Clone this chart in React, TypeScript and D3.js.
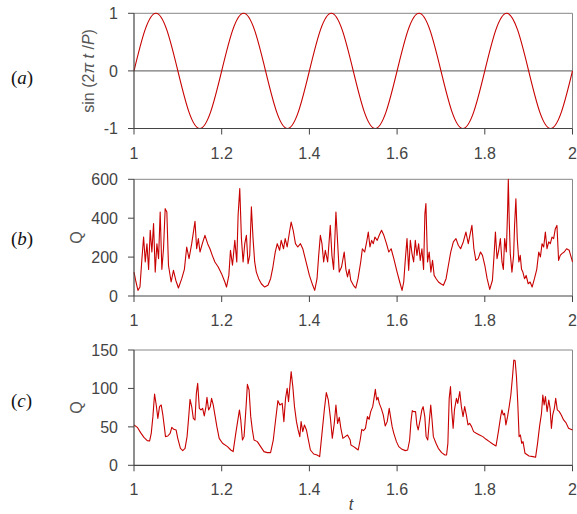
import React from 'react';
import * as d3 from 'd3';

// (a) sine samples, one every 0.025 in t starting at t = 1
const sineValues = [
  0, 0.707, 1, 0.707, 0, -0.707, -1, -0.707,
  0, 0.707, 1, 0.707, 0, -0.707, -1, -0.707,
  0, 0.707, 1, 0.707, 0, -0.707, -1, -0.707,
  0, 0.707, 1, 0.707, 0, -0.707, -1, -0.707,
  0, 0.707, 1, 0.707, 0, -0.707, -1, -0.707,
  0,
];
const sineStep = 0.025;

// (b) flow Q
const bTime = [
  1.0, 1.0045, 1.009, 1.0136, 1.0181, 1.0219, 1.0257, 1.0295, 1.0333, 1.037,
  1.0408, 1.0446, 1.0484, 1.0522, 1.056, 1.0597, 1.0635, 1.0673, 1.0711, 1.0749,
  1.0786, 1.0847, 1.09, 1.0953, 1.1013, 1.1089, 1.1149, 1.1202, 1.1255, 1.1316,
  1.1391, 1.1429, 1.1467, 1.1505, 1.1558, 1.1618, 1.1679, 1.1732, 1.1785, 1.1845,
  1.1921, 1.1996, 1.2072, 1.211, 1.2163, 1.22, 1.2246, 1.2299, 1.2344, 1.2374,
  1.2412, 1.245, 1.2488, 1.2526, 1.2563, 1.2601, 1.2639, 1.2677, 1.2715, 1.2752,
  1.279, 1.2843, 1.2904, 1.2979, 1.3055, 1.3115, 1.3168, 1.3221, 1.3267, 1.332,
  1.3357, 1.341, 1.3448, 1.3493, 1.3546, 1.3584, 1.363, 1.3682, 1.3735, 1.3796,
  1.3849, 1.3924, 1.4, 1.4076, 1.4121, 1.4174, 1.4212, 1.425, 1.4287, 1.4325,
  1.4363, 1.4416, 1.4476, 1.4514, 1.4552, 1.4605, 1.4643, 1.468, 1.4733, 1.4794,
  1.4832, 1.4869, 1.4907,
  1.4943, 1.5004, 1.5057, 1.5109, 1.517, 1.5208, 1.526, 1.5306, 1.5343, 1.5381,
  1.5419, 1.5457, 1.5494, 1.5547, 1.5592, 1.5645, 1.5698, 1.5758, 1.5811, 1.5864,
  1.5925, 1.6, 1.606, 1.6113, 1.6151, 1.6189, 1.6226, 1.6264, 1.6302, 1.634,
  1.6377, 1.6415, 1.6453, 1.6491, 1.6528, 1.6566, 1.6604, 1.6634, 1.6657, 1.6694,
  1.6732, 1.677, 1.6808, 1.6845, 1.6891, 1.6943, 1.6996, 1.7057, 1.7117, 1.717,
  1.7223, 1.7283, 1.7343, 1.7396, 1.7449, 1.7509, 1.757, 1.7623, 1.766, 1.7706,
  1.7751, 1.7796, 1.7849, 1.7902, 1.7947, 1.8, 1.8053, 1.8113, 1.8174, 1.8211,
  1.8242, 1.8279, 1.8317, 1.8355, 1.8392, 1.8423, 1.8453, 1.8491, 1.8521, 1.8536,
  1.8558, 1.8581, 1.8619, 1.8657, 1.8679, 1.8709, 1.874, 1.8777, 1.8808, 1.8838,
  1.8868, 1.8906, 1.8943, 1.8989, 1.9034, 1.9079, 1.9132, 1.9185, 1.923, 1.9268,
  1.9306, 1.9343, 1.9381, 1.9419, 1.9457, 1.9494, 1.9532, 1.957, 1.9608, 1.9645,
  1.9683, 1.9721, 1.9758, 1.9811, 1.9864, 1.9925, 2.0,
];
const bFlow = [
  123, 72, 29, 46, 192, 303, 175, 269, 137, 338,
  226, 372, 123, 269, 192, 432, 137, 243, 449, 432,
  158, 72, 132, 81, 41, 89, 137, 252, 192, 269,
  384, 243, 295, 226, 269, 312, 269, 243, 209, 175,
  149, 115, 72, 46, 106, 235, 158, 286, 175, 415,
  552, 295, 175, 269, 312, 166, 209, 458, 295, 175,
  123, 89, 63, 46, 55, 89, 149, 226, 269, 235,
  286, 243, 295, 252, 329, 380, 338, 269, 252, 269,
  243, 175, 106, 55, 29, 89, 209, 312, 269, 175,
  235, 175, 363, 209, 137, 432, 278, 123, 149, 226,
  137, 98, 137,
  81, 55, 41, 89, 175, 243, 226, 278, 329, 252,
  286, 269, 303, 286, 312, 338, 312, 269, 226, 243,
  192, 123, 72, 29, 72, 192, 295, 132, 286, 218,
  175, 286, 209, 269, 183, 243, 137, 423, 475, 175,
  226, 123, 183, 106, 89, 72, 63, 55, 89, 158,
  226, 278, 295, 261, 243, 278, 329, 269, 312, 363,
  243, 183, 192, 226, 209, 158, 89, 34, 81, 209,
  329, 192, 235, 295, 175, 137, 295, 226, 449, 600,
  380, 218, 123, 209, 363, 500, 295, 175, 209, 137,
  123, 89, 106, 63, 72, 46, 89, 137, 226, 201,
  269, 252, 329, 243, 278, 269, 303, 295, 346, 363,
  183, 209, 218, 226, 243, 235, 175,
];

// (c) flow Q
const cTime = [
  1.0, 1.0076, 1.0151, 1.0227, 1.0302, 1.0355, 1.0393, 1.0431, 1.0469, 1.0507,
  1.0544, 1.0582, 1.062, 1.0658, 1.0696, 1.0718, 1.0771, 1.0824, 1.0862, 1.0907,
  1.096, 1.0998, 1.1059, 1.1112, 1.1164, 1.121, 1.1248, 1.1278, 1.1316, 1.1353,
  1.1391, 1.1422, 1.1452, 1.149, 1.1527, 1.1565, 1.1603, 1.1641, 1.1664, 1.1701,
  1.1739, 1.1769, 1.1807, 1.1845, 1.189, 1.1943, 1.2019, 1.2132, 1.2208, 1.2261,
  1.2321, 1.2374, 1.2405, 1.2435, 1.2473, 1.251, 1.2556, 1.2586, 1.2624, 1.2662,
  1.2699, 1.2737, 1.2813, 1.2888, 1.2964, 1.304, 1.3115, 1.3176, 1.3229, 1.3282,
  1.3327, 1.338, 1.3418, 1.3456, 1.3493, 1.3524, 1.3554, 1.3584, 1.3622, 1.366,
  1.3705, 1.3743, 1.3781, 1.3811, 1.3849, 1.3887, 1.3932, 1.397, 1.4023, 1.4098,
  1.4174, 1.4234, 1.4287, 1.434, 1.4386, 1.4431, 1.4476, 1.4522, 1.4567, 1.4605,
  1.4643, 1.4681, 1.4718, 1.4764, 1.4817, 1.4869, 1.493,
  1.4947, 1.5008, 1.506, 1.5113, 1.5158, 1.5195, 1.5233, 1.5278, 1.5323, 1.5361,
  1.5398, 1.5444, 1.5474, 1.5504, 1.5534, 1.5564, 1.5594, 1.5639, 1.5684, 1.5729,
  1.5774, 1.582, 1.585, 1.5887, 1.5925, 1.5985, 1.6038, 1.6113, 1.6188, 1.6241,
  1.6286, 1.6316, 1.6346, 1.6376, 1.6421, 1.6451, 1.6481, 1.6526, 1.6564, 1.6594,
  1.6632, 1.6662, 1.6699, 1.6737, 1.6767, 1.6797, 1.6827, 1.6887, 1.694, 1.7015,
  1.709, 1.7128, 1.7158, 1.7188, 1.7218, 1.7248, 1.7278, 1.7308, 1.7353, 1.7383,
  1.7429, 1.7466, 1.7504, 1.7541, 1.7579, 1.7617, 1.7654, 1.7699, 1.7744, 1.7805,
  1.788, 1.7955, 1.803, 1.8105, 1.818, 1.8256, 1.8316, 1.8361, 1.8391, 1.8421,
  1.8451, 1.8481, 1.8519, 1.8556, 1.8594, 1.8632, 1.8662, 1.8692, 1.8722, 1.8752,
  1.8782, 1.8812, 1.8842, 1.8872, 1.8917, 1.9008, 1.9098, 1.9158, 1.9203, 1.9248,
  1.9293, 1.9323, 1.9353, 1.9383, 1.9421, 1.9459, 1.9489, 1.9519, 1.9549, 1.9586,
  1.9617, 1.9654, 1.9699, 1.9744, 1.9797, 1.985, 1.991, 2.0,
];
const cFlow = [
  52.5, 49.4, 42.5, 36.4, 32.1, 31.6, 41.6, 63.3, 92.8, 78.5,
  61.1, 76.3, 78.5, 65.5, 48.1, 37.3, 38.1, 41.6, 49.4, 46.8,
  46, 35.1, 21.9, 19.1, 21.9, 37.3, 63.3, 85.8, 76.3, 61.1,
  58.9, 93.6, 106.6, 74.1, 72, 74.1, 64.2, 76.3, 88.4, 72,
  76.3, 87.1, 78.5, 65.5, 50.3, 35.1, 28.6, 24.3, 19.9, 17.8,
  41.6, 61.1, 72, 59, 32.9, 37.3, 76.3, 105.3, 98, 63.3,
  46, 32.9, 30.8, 24.3, 17.8, 16.5, 16.5, 32.9, 59, 84.1,
  78.5, 80.6, 56.8, 87.1, 100.1, 82.8, 102.3, 121.8, 102.3, 76.3,
  56.8, 46, 37.3, 56.8, 43.8, 52.5, 46, 35.1, 19.9, 14.7,
  13.4, 11.3, 41.6, 72, 94.5, 85, 63.3, 35.1, 54.6, 78.5,
  54.6, 62.4, 48.1, 35.1, 37.3, 39.4, 32.9,
  26.4, 24.3, 22.1, 19.9, 32.9, 46.8, 45.1, 48.1, 63.3, 59.8,
  69.8, 76.3, 87.1, 98.8, 85, 88.4, 80.6, 74.1, 65.5, 51.2,
  56.8, 74.1, 63.3, 50.3, 41.6, 30.8, 24.3, 20.8, 19.1, 19.9,
  32.9, 56.8, 71.1, 69.8, 69.8, 52.5, 46, 59, 72, 76.3,
  63.3, 37.3, 32.9, 59, 78.5, 59, 37.3, 28.6, 22.1, 16.5,
  13.4, 13.4, 28.6, 87.1, 102.3, 69.8, 48.1, 72, 87.1, 80.6,
  95.8, 76.3, 63.3, 76.3, 65.5, 52.5, 54.6, 50.3, 43.8, 41.6,
  39.4, 37.3, 33.8, 30.8, 27.7, 25.1, 46, 63.3, 72, 65.5,
  67.6, 52.5, 63.3, 76.3, 91.5, 115.3, 137, 136.1, 115.3, 80.6,
  37.3, 39.4, 28.6, 30.8, 15.6, 12.1, 11.3, 10.4, 28.6, 50.3,
  67.6, 91.5, 78.5, 89.3, 69.8, 85, 74.1, 48.1, 65.5, 74.1,
  87.1, 72, 69.8, 65.5, 59, 55.5, 48.1, 46,
];

const xTicks = [1, 1.2, 1.4, 1.6, 1.8, 2];
const aTicks = [-1, 0, 1];
const bTicks = [0, 200, 400, 600];
const cTicks = [0, 50, 100, 150];

const W = 577;
const H = 514;
const left = 134;
const right = 572.5;
const sans = '"Liberation Sans", Arial, sans-serif';
const serif = '"Liberation Serif", "Times New Roman", serif';

type Pt = { t: number; v: number };

const App = () => {
  const x = d3.scaleLinear().domain([1, 2]).range([left, right]);

  const sinePts: Pt[] = sineValues.map((v, i) => ({ t: 1 + i * sineStep, v }));
  const bPts: Pt[] = bTime.map((t, i) => ({ t, v: bFlow[i] }));
  const cPts: Pt[] = cTime.map((t, i) => ({ t, v: cFlow[i] }));

  const panels = [
    { key: 'a', pts: sinePts, domain: [-1, 1], top: 13.3, bottom: 128.5, ticks: aTicks, tag: 'a', tagY: 84, curve: d3.curveNatural, zero: true },
    { key: 'b', pts: bPts, domain: [0, 600], top: 179.3, bottom: 296, ticks: bTicks, tag: 'b', tagY: 245, curve: d3.curveLinear, zero: false },
    { key: 'c', pts: cPts, domain: [0, 150], top: 350, bottom: 465.3, ticks: cTicks, tag: 'c', tagY: 407, curve: d3.curveLinear, zero: false },
  ];

  return (
    <svg width={W} height={H} style={{ position: 'absolute', left: 0, top: 0, background: '#fff' }}>
      {panels.map((p) => {
        const y = d3.scaleLinear().domain(p.domain).range([p.bottom, p.top]);
        const line = d3.line<Pt>().x((d) => x(d.t)).y((d) => y(d.v)).curve(p.curve);
        const midY = (p.top + p.bottom) / 2;
        return (
          <g key={p.key}>
            {/* frame */}
            <line x1={left} x2={right} y1={p.top} y2={p.top} stroke="#888" strokeWidth={1} />
            <line x1={right} x2={right} y1={p.top} y2={p.bottom} stroke="#888" strokeWidth={1} />
            {p.zero && <line x1={left} x2={right} y1={y(0)} y2={y(0)} stroke="#777" strokeWidth={1.2} />}

            <path d={line(p.pts) || ''} fill="none" stroke="#c80000" strokeWidth={1.1} strokeLinejoin="round" />

            {/* axes */}
            <line x1={left} x2={left} y1={p.top} y2={p.bottom} stroke="#444" strokeWidth={1.2} />
            <line x1={left} x2={right} y1={p.bottom} y2={p.bottom} stroke="#444" strokeWidth={1.2} />

            {p.ticks.map((tk) => (
              <g key={tk}>
                <line x1={left - 6} x2={left} y1={y(tk)} y2={y(tk)} stroke="#444" />
                <text x={118} y={y(tk)} dy="0.36em" textAnchor="end" fontFamily={sans} fontSize={16} fill="#444">
                  {tk}
                </text>
              </g>
            ))}
            {xTicks.map((tk) => (
              <g key={tk}>
                <line x1={x(tk)} x2={x(tk)} y1={p.bottom} y2={p.bottom + 6} stroke="#444" />
                <text x={x(tk)} y={p.bottom + 30} textAnchor="middle" fontFamily={sans} fontSize={16} fill="#444">
                  {tk}
                </text>
              </g>
            ))}

            {/* y title */}
            {p.key === 'a' ? (
              <text transform={`translate(88,${midY}) rotate(-90)`} dy="0.35em" textAnchor="middle" fontFamily={sans} fontSize={16} fill="#555">
                sin (2<tspan fontStyle="italic">π</tspan> <tspan fontStyle="italic">t</tspan> /<tspan fontStyle="italic">P</tspan>)
              </text>
            ) : (
              <text transform={`translate(76,${midY}) rotate(-90)`} dy="0.35em" textAnchor="middle" fontFamily={sans} fontSize={16} fill="#555">
                Q
              </text>
            )}

            {/* panel tag */}
            <text x={11} y={p.tagY} fontFamily={serif} fontSize={19} fill="#111">
              (<tspan fontStyle="italic">{p.tag}</tspan>)
            </text>
          </g>
        );
      })}
      <text x={351} y={510} textAnchor="middle" fontFamily={sans} fontStyle="italic" fontSize={16} fill="#444">
        t
      </text>
    </svg>
  );
};

export default App;
